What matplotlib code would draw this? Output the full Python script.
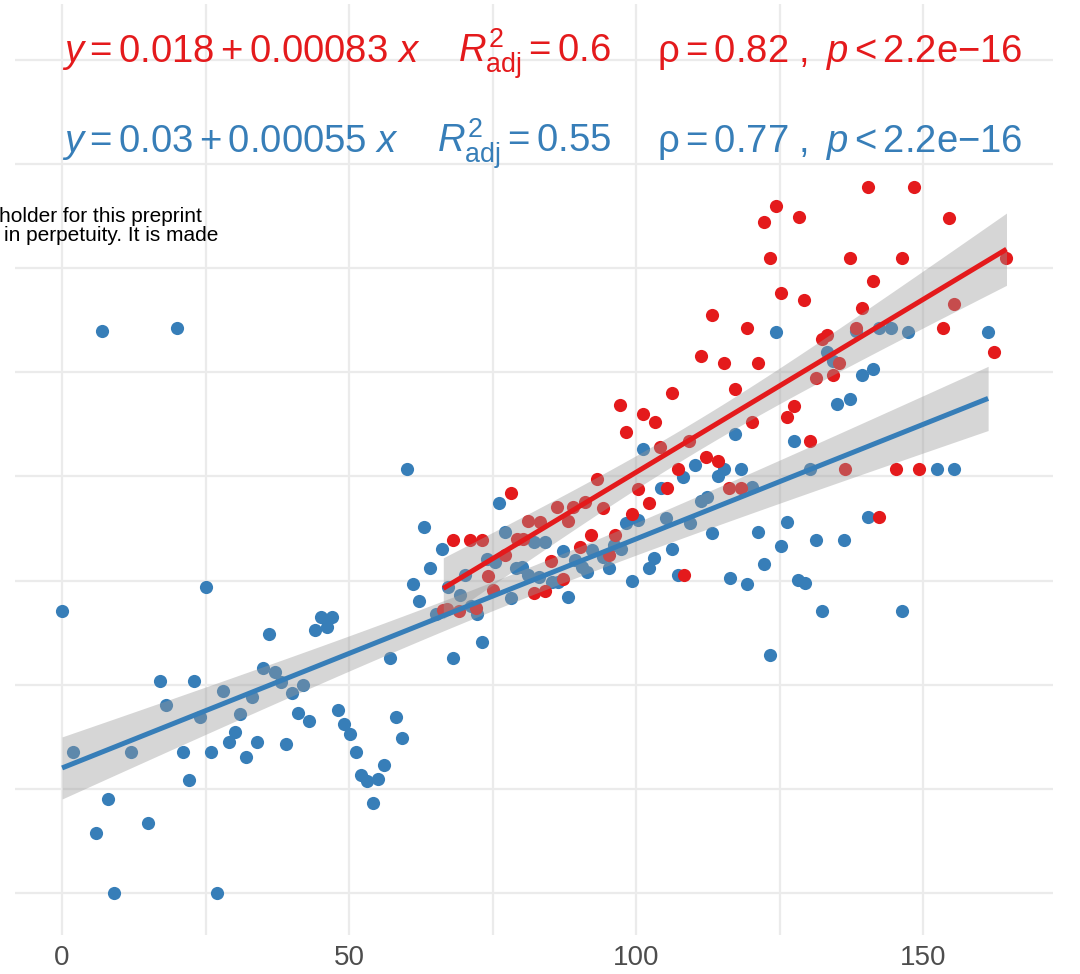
import numpy as np
import matplotlib.pyplot as plt

plt.rcParams['font.family'] = ['Liberation Sans', 'DejaVu Sans']
plt.rcParams['mathtext.fontset'] = 'custom'
plt.rcParams['mathtext.rm'] = 'Liberation Sans'
plt.rcParams['mathtext.it'] = 'Liberation Sans:italic'
plt.rcParams['mathtext.bf'] = 'Liberation Sans:bold'

# blue group
blue_x = [0.0, 25.1, 1.9, 12.0, 17.1, 23.0, 18.1, 24.0, 21.1, 22.1, 26.0, 28.0, 31.0, 33.1,
          30.1, 29.1, 32.1, 34.0, 35.0, 37.1, 38.2, 36.1, 40.1, 42.0, 41.1, 43.0, 39.0, 44.1,
          45.1, 46.2, 47.0, 48.1, 49.1, 50.2, 51.2, 52.1, 53.1, 55.1, 56.1, 54.2, 57.1, 58.2,
          59.2, 61.1, 62.2, 64.1, 8.0, 5.9, 15.0, 9.1, 27.0, 7.0, 20.0, 60.1, 63.1, 65.2,
          66.2, 76.1, 69.3, 67.2, 70.2, 72.3, 71.3, 74.0, 75.4, 77.2, 78.2, 82.2, 84.1, 79.1,
          80.1, 81.2, 83.1, 87.3, 89.4, 91.5, 92.3, 85.4, 86.4, 88.2, 90.6, 68.1, 73.2, 94.3,
          96.2, 97.4, 95.3, 99.3, 98.3, 100.3, 104.4, 108.2, 105.2, 106.3, 103.1, 102.3, 107.3,
          101.2, 110.3, 109.4, 111.3, 112.4, 124.4, 117.2, 127.4, 114.3, 115.3, 118.3, 120.2,
          130.3, 133.3, 134.3, 135.0, 138.3, 142.3, 144.4, 147.4, 161.3, 139.4, 141.3, 137.3,
          152.4, 155.4, 113.2, 121.3, 126.3, 125.3, 131.4, 136.2, 140.4, 122.3, 116.4, 119.3,
          128.2, 129.4, 132.4, 146.3, 123.3]
blue_y = [0.0677, 0.0735, 0.0339, 0.0339, 0.0509, 0.0509, 0.0451, 0.0423, 0.0339, 0.0271,
          0.0339, 0.0485, 0.0430, 0.0471, 0.0387, 0.0363, 0.0327, 0.0363, 0.0540, 0.0531,
          0.0507, 0.0622, 0.0480, 0.0499, 0.0432, 0.0413, 0.0358, 0.0631, 0.0663, 0.0639,
          0.0663, 0.0439, 0.0406, 0.0382, 0.0339, 0.0283, 0.0269, 0.0274, 0.0307, 0.0216,
          0.0564, 0.0423, 0.0372, 0.0742, 0.0701, 0.0780, 0.0226, 0.0144, 0.0168, 0.0, 0.0,
          0.1349, 0.1357, 0.1018, 0.0879, 0.0670, 0.0826, 0.0936, 0.0715, 0.0735, 0.0764,
          0.0670, 0.0689, 0.0802, 0.0795, 0.0867, 0.0708, 0.0843, 0.0843, 0.0780, 0.0783,
          0.0764, 0.0759, 0.0821, 0.0800, 0.0771, 0.0824, 0.0747, 0.0747, 0.0711, 0.0783,
          0.0564, 0.0603, 0.0807, 0.0836, 0.0826, 0.0780, 0.0749, 0.0888, 0.0896, 0.0972,
          0.0999, 0.0900, 0.0826, 0.0804, 0.0780, 0.0764, 0.1066, 0.1028, 0.0888, 0.0941,
          0.0951, 0.1347, 0.1102, 0.1085, 0.1001, 0.1018, 0.1018, 0.0975, 0.1018, 0.1299,
          0.1277, 0.1174, 0.1349, 0.1357, 0.1357, 0.1347, 0.1347, 0.1244, 0.1258, 0.1186,
          0.1018, 0.1018, 0.0864, 0.0867, 0.0891, 0.0833, 0.0848, 0.0848, 0.0903, 0.0790,
          0.0756, 0.0742, 0.0751, 0.0744, 0.0677, 0.0677, 0.0571]

# red group
red_x = [78.2, 68.1, 71.1, 73.2, 67.1, 69.2, 72.1, 74.2, 77.2, 75.1, 79.3, 80.3, 81.2, 83.3,
         82.2, 84.1, 85.2, 86.2, 88.2, 89.0, 91.1, 93.2, 90.2, 92.2, 87.3, 95.3, 96.3, 99.3,
         100.3, 102.3, 105.4, 107.3, 108.4, 94.3, 97.2, 101.2, 103.3, 98.3, 106.3, 104.2,
         109.2, 124.4, 122.3, 128.4, 123.3, 125.3, 129.3, 113.2, 119.3, 111.3, 115.3, 121.3,
         117.2, 127.4, 126.3, 120.2, 130.3, 132.4, 133.3, 131.4, 134.3, 112.2, 114.3, 116.2,
         118.3, 140.4, 148.4, 154.4, 137.3, 146.3, 164.5, 141.3, 139.4, 155.4, 138.3, 153.5,
         162.4, 135.4, 136.4, 145.3, 149.3, 142.3, 66.4]
red_y = [0.0960, 0.0848, 0.0848, 0.0848, 0.0682, 0.0677, 0.0684, 0.0761, 0.0812, 0.0727,
         0.0850, 0.0850, 0.0893, 0.0891, 0.0720, 0.0725, 0.0797, 0.0927, 0.0893, 0.0927,
         0.0939, 0.0994, 0.0831, 0.0860, 0.0754, 0.0812, 0.0860, 0.0910, 0.0970, 0.0936,
         0.0972, 0.1018, 0.0764, 0.0924, 0.1172, 0.1150, 0.1131, 0.1107, 0.1200, 0.1071,
         0.1085, 0.1649, 0.1611, 0.1623, 0.1525, 0.1441, 0.1424, 0.1388, 0.1357, 0.1289,
         0.1273, 0.1273, 0.1210, 0.1169, 0.1143, 0.1131, 0.1085, 0.1330, 0.1340, 0.1236,
         0.1244, 0.1047, 0.1037, 0.0972, 0.0972, 0.1695, 0.1695, 0.1621, 0.1525, 0.1525,
         0.1525, 0.1469, 0.1405, 0.1414, 0.1357, 0.1357, 0.1299, 0.1273, 0.1018, 0.1018,
         0.1018, 0.0903, 0.0679]

# fitted coefficients as printed on the chart (intercept, slope)
red_coef = (0.018, 0.00083)
blue_coef = (0.03, 0.00055)

red_label = (r'$y = 0.018 + 0.00083\ x$', r'$R^2_{\mathrm{adj}} = 0.6$',
             r'$\mathrm{\rho} = 0.82\ ,\ p < 2.2\mathrm{e}{-}16$')
blue_label = (r'$y = 0.03 + 0.00055\ x$', r'$R^2_{\mathrm{adj}} = 0.55$',
              r'$\mathrm{\rho} = 0.77\ ,\ p < 2.2\mathrm{e}{-}16$')

RED = '#E41A1C'
BLUE = '#377EB8'

fig = plt.figure(figsize=(10.8, 9.74), dpi=100)
ax = fig.add_axes([15 / 1080, 39 / 974, 1038 / 1080, 931 / 974])


def smooth(x, y, coef, color, z):
    # lm line with 95% confidence band, like geom_smooth(method = "lm")
    x = np.asarray(x)
    y = np.asarray(y)
    n = len(x)
    a, b = coef
    xs = np.linspace(x.min(), x.max(), 80)
    fit = a + b * xs
    resid = y - (a + b * x)
    s = np.sqrt(np.sum(resid ** 2) / (n - 2))
    sxx = np.sum((x - x.mean()) ** 2)
    se = s * np.sqrt(1 / n + (xs - x.mean()) ** 2 / sxx)
    t = 1.98
    ax.fill_between(xs, fit - t * se, fit + t * se, color='#999999', alpha=0.4,
                    linewidth=0, zorder=z)
    ax.plot(xs, fit, color=color, lw=3.6, zorder=z + 0.5, solid_capstyle='butt')


ax.scatter(blue_x, blue_y, s=90, color=BLUE, linewidths=0, zorder=2)
ax.scatter(red_x, red_y, s=90, color=RED, linewidths=0, zorder=2)
smooth(red_x, red_y, red_coef, RED, 3)
smooth(blue_x, blue_y, blue_coef, BLUE, 4)

ax.set_xlim(-8.2, 172.6)
ax.set_ylim(-0.0101, 0.2134)
ax.set_xticks([0, 50, 100, 150])
ax.set_xticks([25, 75, 125], minor=True)
ax.set_yticks(np.arange(0, 0.201, 0.05))
ax.set_yticks(np.arange(0.025, 0.2, 0.05), minor=True)
ax.set_yticklabels([])
ax.grid(True, which='both', color='#EBEBEB', lw=1.6, zorder=0)
ax.set_axisbelow(True)
ax.tick_params(which='both', length=0)
ax.tick_params(axis='x', labelsize=20, labelcolor='#4D4D4D', pad=7)
for sp in ax.spines.values():
    sp.set_visible(False)

# regression / correlation labels
fs = 27.5
for lab, col, base, r_x in [(red_label, RED, 62, 458), (blue_label, BLUE, 152, 437)]:
    yb = 1 - base / 974
    fig.text(62 / 1080, yb, lab[0], color=col, fontsize=fs, va='baseline')
    fig.text(r_x / 1080, yb, lab[1], color=col, fontsize=fs, va='baseline')
    fig.text(657 / 1080, yb, lab[2], color=col, fontsize=fs, va='baseline')

# leftover of the preprint watermark, cut at the left edge
fig.text(202 / 1080, 1 - 222 / 974, 'holder for this preprint', ha='right', va='baseline',
         fontsize=15, color='black')
fig.text(218 / 1080, 1 - 241 / 974, 'in perpetuity. It is made', ha='right', va='baseline',
         fontsize=15, color='black')

fig.savefig('out.png', dpi=100)
